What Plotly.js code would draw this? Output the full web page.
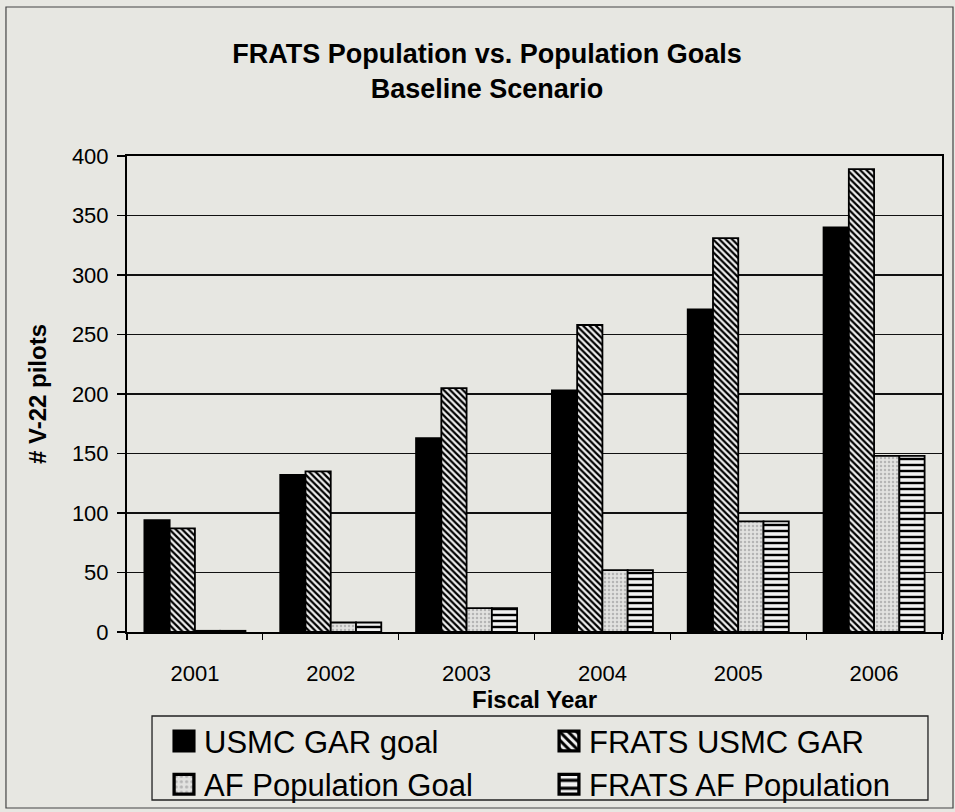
<!DOCTYPE html>
<html>
<head>
<meta charset="utf-8">
<script src="https://cdn.plot.ly/plotly-3.0.1.min.js"></script>
<style>
html,body{margin:0;padding:0;background:#e7e7e2;}
#chart{width:955px;height:812px;}
</style>
</head>
<body>
<div id="chart"></div>
<script>
const years = ["2001", "2002", "2003", "2004", "2005", "2006"];
const usmcGarGoal = [94, 132, 163, 203, 271, 340];
const fratsUsmcGar = [87, 135, 205, 258, 331, 389];
const afPopulationGoal = [1, 8, 20, 52, 93, 148];
const fratsAfPopulation = [1, 8, 20, 52, 93, 148];
const seriesNames = ["USMC GAR goal", "FRATS USMC GAR", "AF Population Goal", "FRATS AF Population"];
const yTicks = [0, 50, 100, 150, 200, 250, 300, 350, 400];

const lineStyle = {color: "#000", width: 1.8};
const traces = [
  {type: "bar", name: seriesNames[0], x: years, y: usmcGarGoal,
   marker: {color: "#000", line: lineStyle}},
  {type: "bar", name: seriesNames[1], x: years, y: fratsUsmcGar,
   marker: {color: "#fff", line: lineStyle,
     pattern: {shape: "\\", fgcolor: "#000", bgcolor: "#f2f2f2", size: 4.5, solidity: 0.5}}},
  {type: "bar", name: seriesNames[2], x: years, y: afPopulationGoal,
   marker: {color: "#e0e0e0", line: lineStyle,
     pattern: {shape: ".", fgcolor: "#b5b5b5", bgcolor: "#e2e2e0", size: 4, solidity: 0.3}}},
  {type: "bar", name: seriesNames[3], x: years, y: fratsAfPopulation,
   marker: {color: "#fff", line: lineStyle,
     pattern: {shape: "-", fgcolor: "#000", bgcolor: "#f2f2f2", size: 6, solidity: 0.4}}}
];

const font = "Liberation Sans, Arial, sans-serif";
const layout = {
  width: 955, height: 812,
  paper_bgcolor: "#e7e7e2", plot_bgcolor: "#e7e7e2",
  margin: {l: 127, r: 13, t: 156, b: 180, autoexpand: false},
  barmode: "group", bargap: 0.256, bargroupgap: 0,
  font: {family: font, color: "#000", size: 22},
  title: {text: "<b>FRATS Population vs. Population Goals<br>Baseline Scenario</b>",
    font: {family: font, size: 27, color: "#000"}, x: 0.51, xanchor: "center", y: 0.922, yanchor: "middle"},
  xaxis: {type: "category", tickson: "boundaries", ticks: "outside", ticklen: 6, tickcolor: "#000", tickwidth: 1.2,
    showline: true, linecolor: "#000", linewidth: 2, mirror: true, showgrid: false,
    ticklabelstandoff: 21, automargin: false,
    tickfont: {size: 22}, title: {text: "<b>Fiscal Year</b>", font: {size: 24}, standoff: 6}},
  yaxis: {range: [0, 400], tickvals: yTicks, ticks: "outside", ticklen: 8, tickcolor: "#000", tickwidth: 1.2,
    showline: true, linecolor: "#000", linewidth: 2, mirror: true,
    showgrid: true, gridcolor: "#111", gridwidth: 1.2, zeroline: false,
    ticklabelstandoff: 4, automargin: false,
    tickfont: {size: 22}, title: {text: "<b># V-22 pilots</b>", font: {size: 24}, standoff: 18}},
  legend: {orientation: "h", x: 0.0454, xanchor: "left", y: -0.173, yanchor: "top",
    bgcolor: "rgba(0,0,0,0)", borderwidth: 0,
    font: {size: 31, family: font}, entrywidth: 340, entrywidthmode: "pixels",
    traceorder: "normal", itemsizing: "constant"},
  shapes: [
    {type: "rect", xref: "paper", yref: "paper", x0: -0.1485, x1: 1.0135, y0: -0.3697, y1: 1.313,
     line: {color: "#444", width: 1.2}, fillcolor: "rgba(0,0,0,0)", layer: "below"},
    {type: "rect", xref: "paper", yref: "paper", x0: 0.0307, x1: 0.9828, y0: -0.3529, y1: -0.1765,
     line: {color: "#222", width: 1.3}, fillcolor: "rgba(0,0,0,0)", layer: "below"}
  ],
  showlegend: true
};
Plotly.newPlot("chart", traces, layout, {displayModeBar: false, staticPlot: true}).then(function () {
  document.querySelectorAll("#chart .legend .legendpoints path").forEach(function (p) {
    const t = p.getAttribute("transform") || "";
    p.setAttribute("transform", t + " scale(1.65)");
  });
});
</script>
</body>
</html>
